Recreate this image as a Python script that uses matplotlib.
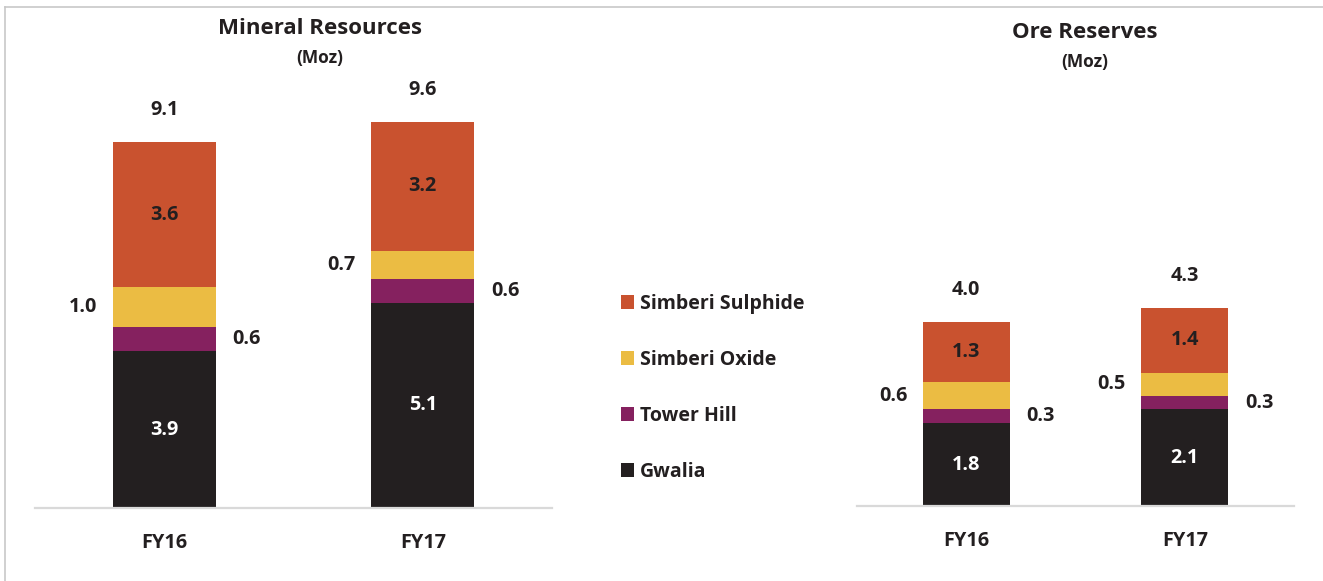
import matplotlib
matplotlib.use("Agg")
import matplotlib.pyplot as plt
from matplotlib.lines import Line2D
from matplotlib.patches import Patch

plt.rcParams['font.family'] = ['Open Sans', 'DejaVu Sans']
plt.rcParams['font.weight'] = 'bold'

categories = ["FY16", "FY17"]
series_names = ["Gwalia", "Tower Hill", "Simberi Oxide", "Simberi Sulphide"]
colors = ["#231F20", "#85215F", "#EBBC43", "#C9522F"]

resources = {
    "Gwalia": [3.9, 5.1],
    "Tower Hill": [0.6, 0.6],
    "Simberi Oxide": [1.0, 0.7],
    "Simberi Sulphide": [3.6, 3.2],
}
resources_total = [9.1, 9.6]

reserves = {
    "Gwalia": [1.8, 2.1],
    "Tower Hill": [0.3, 0.3],
    "Simberi Oxide": [0.6, 0.5],
    "Simberi Sulphide": [1.3, 1.4],
}
reserves_total = [4.0, 4.3]

W, H = 1323, 581
fig = plt.figure(figsize=(W / 100, H / 100), dpi=100)

def px_axes(x0, x1, ytop, ybot):
    return fig.add_axes([x0 / W, (H - ybot) / H, (x1 - x0) / W, (ybot - ytop) / H])

dark = "#231F20"
FS = 14.3
LFS = 14.0

def draw_panel(ax, data, totals, ymax, bar_w):
    x = list(range(len(categories)))
    bottoms = [0.0] * len(categories)
    for name, col in zip(series_names, colors):
        vals = data[name]
        ax.bar(x, vals, bottom=bottoms, width=bar_w, color=col, edgecolor='none', zorder=2)
        for i, v in enumerate(vals):
            mid = bottoms[i] + v / 2
            if name == "Gwalia":
                ax.text(x[i], mid, f"{v:.1f}", ha='center', va='center', color='white', fontsize=FS, fontweight='bold')
            elif name == "Simberi Sulphide":
                ax.text(x[i], mid, f"{v:.1f}", ha='center', va='center', color=dark, fontsize=FS, fontweight='bold')
            elif name == "Simberi Oxide":
                ax.annotate(f"{v:.1f}", (x[i] - bar_w / 2, mid), xytext=(-11, 0), textcoords='offset points',
                            ha='right', va='center', color=dark, fontsize=FS, fontweight='bold')
            else:
                ax.annotate(f"{v:.1f}", (x[i] + bar_w / 2, mid), xytext=(12, 0), textcoords='offset points',
                            ha='left', va='center', color=dark, fontsize=FS, fontweight='bold')
            bottoms[i] += v
    for i, t in enumerate(totals):
        ax.annotate(f"{t:.1f}", (x[i], t), xytext=(0, 23), textcoords='offset points',
                    ha='center', va='center', color=dark, fontsize=FS, fontweight='bold')
    ax.set_xlim(-0.5, 1.5)
    ax.set_ylim(0, ymax)
    for s in ['top', 'right', 'left']:
        ax.spines[s].set_visible(False)
    ax.spines['bottom'].set_color('#D9D9D9')
    ax.spines['bottom'].set_linewidth(1.6)
    ax.set_yticks([])
    ax.set_xticks(x)
    ax.set_xticklabels(categories, fontsize=FS, fontweight='bold', color=dark)
    ax.tick_params(axis='x', length=0, pad=18)
    ax.patch.set_alpha(0)

# left panel: baseline at y=508, 40.2 px/unit
axL = px_axes(35, 552, 100, 508)
draw_panel(axL, resources, resources_total, 408 / 40.2, 0.40)
# right panel: baseline at y=506, 46 px/unit
axR = px_axes(857, 1294, 100, 506)
draw_panel(axR, reserves, reserves_total, 406 / 46.0, 0.40)

# titles
fig.text(320 / W, 1 - 28 / H, "Mineral Resources", ha='center', va='center', fontsize=16, fontweight='bold', color=dark)
fig.text(320 / W, 1 - 58 / H, "(Moz)", ha='center', va='center', fontsize=12.5, fontweight='bold', color=dark)
fig.text(1085 / W, 1 - 33 / H, "Ore Reserves", ha='center', va='center', fontsize=16, fontweight='bold', color=dark)
fig.text(1085 / W, 1 - 62 / H, "(Moz)", ha='center', va='center', fontsize=12.5, fontweight='bold', color=dark)

# legend
handles = [Patch(facecolor=c, edgecolor='none') for c in colors[::-1]]
labels = series_names[::-1]
fig.legend(handles, labels, loc='upper left', bbox_to_anchor=(603 / W, 1 - 276 / H), frameon=False,
           handlelength=0.7, handleheight=0.7, handletextpad=0.3, labelspacing=1.86,
           labelcolor=dark, prop={'weight': 'bold', 'size': LFS})

# border lines
fig.add_artist(Line2D([5 / W, 1], [1 - 7 / H, 1 - 7 / H], color='#C8C8C8', lw=1.2, transform=fig.transFigure))
fig.add_artist(Line2D([5 / W, 5 / W], [0, 1 - 7 / H], color='#C8C8C8', lw=1.2, transform=fig.transFigure))

fig.savefig("out.png", dpi=100, facecolor='white')
